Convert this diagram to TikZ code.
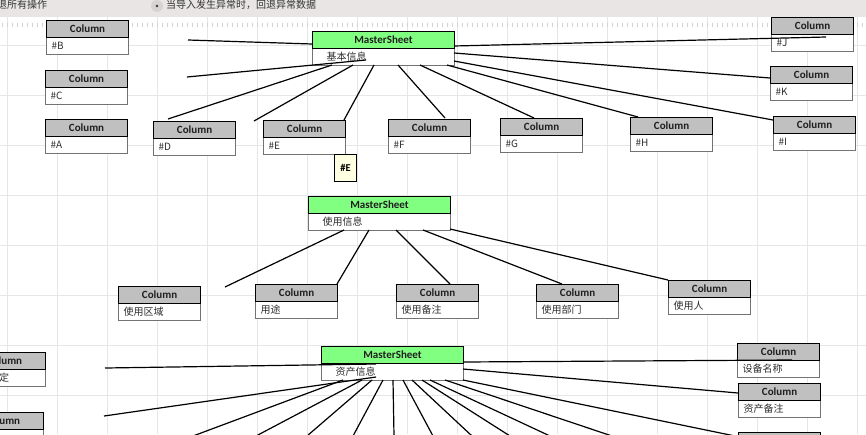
\documentclass[tikz,border=0pt]{standalone}
\usepackage{fontspec}
\setmainfont{Carlito}
\newfontfamily\cjk{Noto Sans CJK SC}
\definecolor{hdrgray}{HTML}{C0C0C0}
\definecolor{hdrgreen}{HTML}{80FF80}
\definecolor{gridc}{HTML}{E6E6E6}
\definecolor{barc}{HTML}{E9E5E5}
\definecolor{bodyb}{HTML}{737373}
\definecolor{tipc}{HTML}{FFFFE1}
\definecolor{tickc}{HTML}{D2D2D2}
\definecolor{radioc}{HTML}{D8D3D3}
\tikzset{
  gridline/.style={draw=gridc, line width=1pt},
  rulertick/.style={draw=tickc, line width=0.7pt},
  bartext/.style={inner sep=0pt, font=\cjk\fontsize{10}{11}\selectfont, text=black!80},
  hdr/.style={draw=black, line width=1.1pt, fill=hdrgray, minimum width=82pt, minimum height=17pt,
    anchor=north west, inner sep=0pt, font=\bfseries\fontsize{11}{12}\selectfont, text=black!88},
  body/.style={draw=bodyb, line width=1pt, fill=white, minimum width=82pt, minimum height=17pt,
    anchor=north west, inner xsep=0pt, inner ysep=0pt, text width=72pt, align=left,
    font=\cjk\fontsize{10}{11}\selectfont, text=black!82},
  mshdr/.style={hdr, fill=hdrgreen, minimum width=142pt},
  msbody/.style={body, minimum width=142pt, text width=114pt},
  tipbox/.style={draw=black, line width=1pt, fill=tipc, minimum width=22pt, minimum height=27pt,
    anchor=north west, inner sep=0pt, font=\bfseries\fontsize{10.5}{11}\selectfont},
  conn/.style={draw=black, line width=1.2pt},
}
\newcommand\ColBox[4]{%
  \node[body] (#1b) at (#2,#3+17) {#4};
  \node[hdr] (#1h) at (#2,#3) {Column};
}
\newcommand\MSBox[4]{%
  \node[msbody] (#1b) at (#2,#3+17) {#4};
  \node[mshdr] (#1h) at (#2,#3) {MasterSheet};
}
\begin{document}
\begin{tikzpicture}[x=1pt,y=-1pt]
\useasboundingbox (0,0) rectangle (866,434);
\clip (0,0) rectangle (866,434);
\fill[white] (0,0) rectangle (866,434);
% grid
\foreach \gx in {7,57,...,857} \draw[gridline] (\gx,16) -- (\gx,434);
\foreach \gy in {45,95,...,395} \draw[gridline] (0,\gy) -- (866,\gy);
% ruler
\foreach \tx in {2,7,...,862} \draw[rulertick] (\tx,23) -- (\tx,26.5);
% top bar
\fill[barc] (0,0) rectangle (866,16.5);
\node[bartext, anchor=west] (opt1) at (-3,5) {退所有操作};
\node[circle, fill=radioc, minimum size=12pt, inner sep=0pt] (rad) at (157,6) {};
\node[circle, fill=black!80, minimum size=2.6pt, inner sep=0pt] (raddot) at (rad.center) {};
\node[bartext, anchor=west] (opt2) at (166,5) {当导入发生异常时，回退异常数据};

% ---------- top section ----------
\MSBox{ms1}{312}{31}{基本信息}
\ColBox{cB}{46}{20}{\#B}
\ColBox{cC}{45}{70}{\#C}
\ColBox{cA}{45}{119}{\#A}
\ColBox{cD}{153}{121}{\#D}
\ColBox{cE}{263}{120}{\#E}
\ColBox{cF}{388}{119}{\#F}
\ColBox{cG}{500}{118}{\#G}
\ColBox{cH}{630}{117}{\#H}
\ColBox{cI}{773}{116}{\#I}
\ColBox{cJ}{771}{17}{\#J}
\ColBox{cK}{770}{66}{\#K}
\node[tipbox] (tipE) at (334,154) {\#E};

\coordinate (t1a) at (188,40);  \coordinate (t1b) at (312,44);
\coordinate (t2a) at (187,77);  \coordinate (t2b) at (366,60);
\coordinate (t3a) at (168,119); \coordinate (t3b) at (332,65);
\coordinate (t4a) at (254,121); \coordinate (t4b) at (353,65);
\coordinate (t5a) at (344,120); \coordinate (t5b) at (374,65);
\coordinate (t6a) at (445,118); \coordinate (t6b) at (398,65);
\coordinate (t7a) at (534,118); \coordinate (t7b) at (420,65);
\coordinate (t8a) at (638,117); \coordinate (t8b) at (447,65);
\coordinate (t9a) at (773,120); \coordinate (t9b) at (454,61);
\coordinate (t10a) at (770,78); \coordinate (t10b) at (454,53);
\coordinate (t11a) at (826,37); \coordinate (t11b) at (454,46);
\foreach \k in {1,...,11} \draw[conn] (t\k a) -- (t\k b);

% ---------- middle section ----------
\MSBox{ms2}{308}{196}{使用信息}
\ColBox{cU1}{118}{286}{使用区域}
\ColBox{cU2}{255}{284}{用途}
\ColBox{cU3}{396}{284}{使用备注}
\ColBox{cU4}{536}{284}{使用部门}
\ColBox{cU5}{668}{280}{使用人}

\coordinate (m1a) at (225,287); \coordinate (m1b) at (344,230);
\coordinate (m2a) at (337,284); \coordinate (m2b) at (369,230);
\coordinate (m3a) at (450,284); \coordinate (m3b) at (396,230);
\coordinate (m4a) at (562,284); \coordinate (m4b) at (423,230);
\coordinate (m5a) at (668,280); \coordinate (m5b) at (450,229);
\foreach \k in {1,...,5} \draw[conn] (m\k a) -- (m\k b);

% ---------- bottom section ----------
\MSBox{ms3}{321}{346}{资产信息}
\ColBox{cL1}{-37}{352}{}
\node[anchor=west, inner sep=0pt, font=\cjk\fontsize{10}{11}\selectfont, text=black!82] (cL1t) at (-1,378) {定};
\ColBox{cL2}{-39}{412}{}
\ColBox{cR1}{737}{343}{设备名称}
\ColBox{cR2}{738}{383}{资产备注}
\ColBox{cR3}{738}{432}{}

\coordinate (b1a) at (105,368); \coordinate (b1b) at (376,364);
\coordinate (b2a) at (104,416); \coordinate (b2b) at (376,377);
\draw[conn] (b1a) -- (b1b);
\draw[conn] (b2a) -- (b2b);
\foreach \i/\sx/\ex in {1/343/193, 2/362/256, 3/372/307, 4/383/353, 5/393/394, 6/403/433,
                       7/412/472, 8/422/510, 9/430/550, 10/445/612, 11/463/735} {
  \coordinate (fs\i) at (\sx,380);
  \coordinate (fe\i) at (\ex,436);
  \draw[conn] (fs\i) -- (fe\i);
}
\coordinate (r1a) at (463,362); \coordinate (r1b) at (792,360);
\coordinate (r2a) at (463,369); \coordinate (r2b) at (738,393);
\draw[conn] (r1a) -- (r1b);
\draw[conn] (r2a) -- (r2b);
\end{tikzpicture}
\end{document}
